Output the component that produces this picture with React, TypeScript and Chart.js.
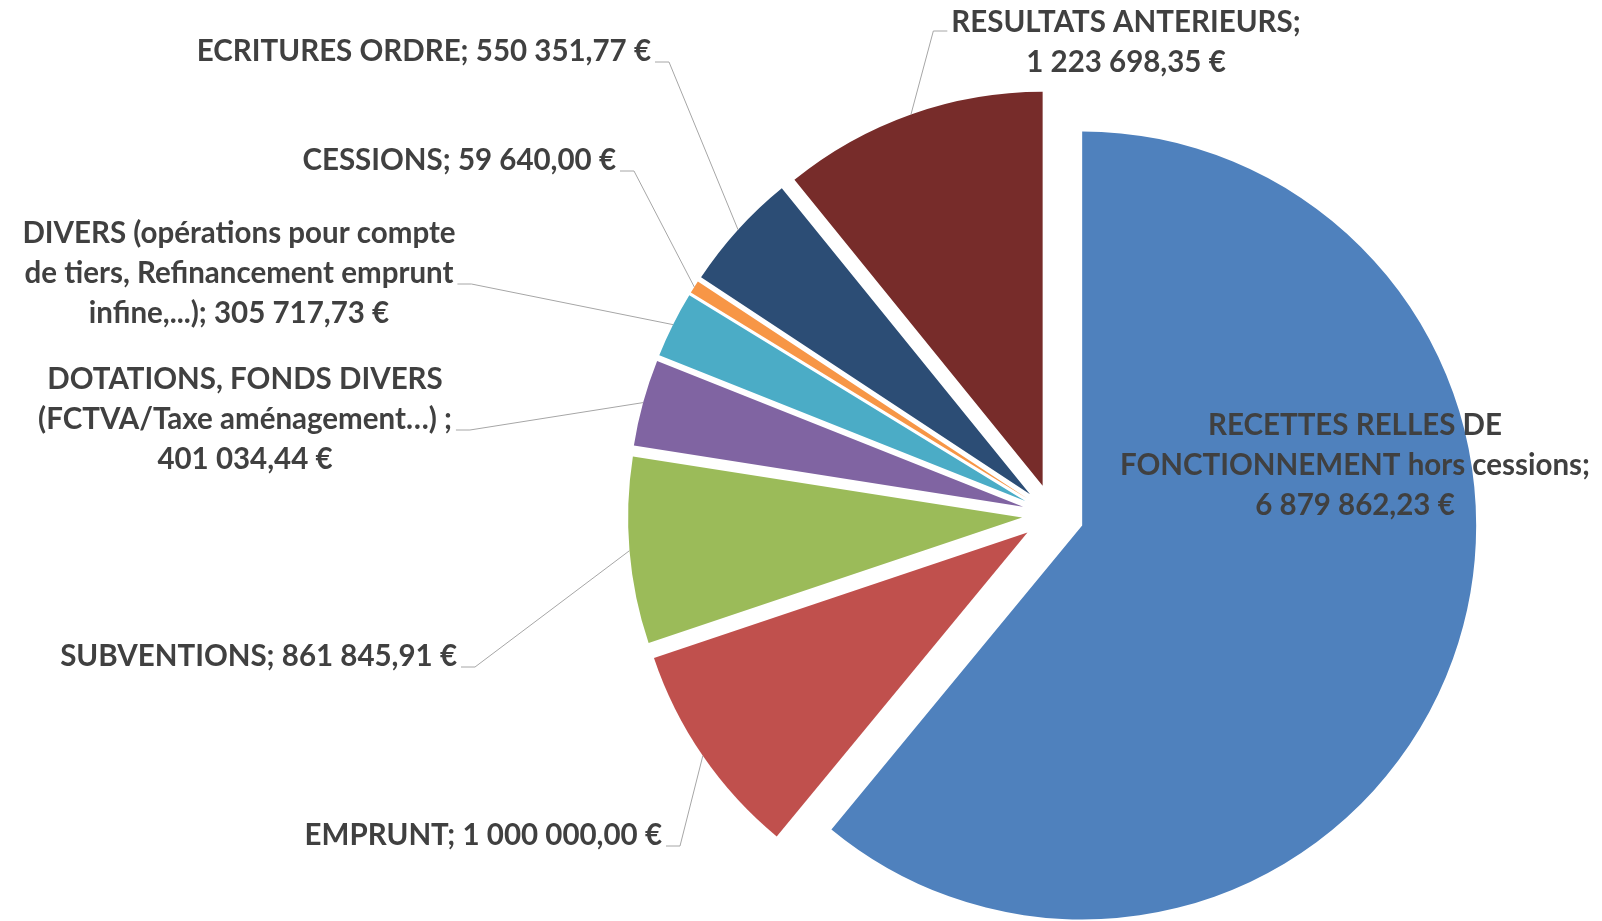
import React, { useEffect, useRef } from "react";
import { Chart, registerables, PieController, ArcElement } from "chart.js";

// ---------- data ----------
const categories = [
  "RECETTES RELLES DE FONCTIONNEMENT hors cessions",
  "EMPRUNT",
  "SUBVENTIONS",
  "DOTATIONS, FONDS DIVERS (FCTVA/Taxe aménagement…) ",
  "DIVERS (opérations pour compte de tiers, Refinancement emprunt infine,...)",
  "CESSIONS",
  "ECRITURES ORDRE",
  "RESULTATS ANTERIEURS",
];
const values = [
  6879862.23, 1000000.0, 861845.91, 401034.44, 305717.73, 59640.0, 550351.77,
  1223698.35,
];
const colors = [
  "#4F81BD",
  "#C0504D",
  "#9BBB59",
  "#8064A2",
  "#4BACC6",
  "#F79646",
  "#2C4D75",
  "#772C2A",
];

// ---------- styling / layout ----------
const EXPLODE = 31;
const FONT_PX = 29.5;
const LINE_H = 40;
const TEXT_COLOR = "#404040";
const LEADER_COLOR = "#A6A6A6";

type LabelLayout = {
  x: number;
  y: number;
  align: "center" | "right";
  breaks: string[];
  attach: "none" | "left" | "right";
  attachLine: number;
  attachDy: number;
};

const labelLayout: LabelLayout[] = [
  { x: 1355, y: 425, align: "center", breaks: ["DE", "cessions;"], attach: "none", attachLine: 0, attachDy: 0 },
  { x: 662, y: 835, align: "right", breaks: [], attach: "right", attachLine: 0, attachDy: 11 },
  { x: 457, y: 656, align: "right", breaks: [], attach: "right", attachLine: 0, attachDy: 11 },
  { x: 245, y: 379, align: "center", breaks: ["DIVERS", "…) ;"], attach: "right", attachLine: 1, attachDy: 11 },
  { x: 239, y: 233, align: "center", breaks: ["compte", "emprunt"], attach: "right", attachLine: 1, attachDy: 11 },
  { x: 616, y: 160, align: "right", breaks: [], attach: "right", attachLine: 0, attachDy: 11 },
  { x: 651, y: 51, align: "right", breaks: [], attach: "right", attachLine: 0, attachDy: 11 },
  { x: 1126, y: 22, align: "center", breaks: ["ANTERIEURS;"], attach: "left", attachLine: 0, attachDy: 9 },
];

function fmtEuro(v: number): string {
  const [i, d] = v.toFixed(2).split(".");
  return i.replace(/\B(?=(\d{3})+(?!\d))/g, "\u00a0") + "," + d + "\u00a0€";
}

function wrapAt(text: string, breaks: string[]): string[] {
  const out: string[] = [];
  let rest = text;
  for (const b of breaks) {
    const k = rest.indexOf(b);
    if (k < 0) continue;
    out.push(rest.slice(0, k + b.length).trim());
    rest = rest.slice(k + b.length);
  }
  out.push(rest.trim());
  return out;
}

// ---------- exploded arc element (uniform radial displacement) ----------
class ExplodedArc extends ArcElement {
  static id = "explodedArc";
  draw(ctx: CanvasRenderingContext2D) {
    const self: any = this;
    const half = (self.startAngle + self.endAngle) / 2;
    ctx.save();
    ctx.translate(Math.cos(half) * EXPLODE, Math.sin(half) * EXPLODE);
    super.draw(ctx);
    ctx.restore();
  }
}
class ExplodedPie extends PieController {
  static id = "explodedPie";
  static defaults = { dataElementType: "explodedArc" };
}
Chart.register(...registerables, ExplodedArc as any, ExplodedPie as any);

const labelPlugin = {
  id: "sliceLabels",
  afterDatasetsDraw(chart: any) {
    const ctx: CanvasRenderingContext2D = chart.ctx;
    const meta = chart.getDatasetMeta(0);
    ctx.save();
    ctx.font = `bold ${FONT_PX}px Lato`;
    ctx.textBaseline = "middle";
    meta.data.forEach((arc: any, i: number) => {
      const lay = labelLayout[i];
      const { x, y, startAngle, endAngle, outerRadius } = arc.getProps(
        ["x", "y", "startAngle", "endAngle", "outerRadius"],
        true
      );
      const half = (startAngle + endAngle) / 2;
      const ax = x + Math.cos(half) * (outerRadius + EXPLODE);
      const ay = y + Math.sin(half) * (outerRadius + EXPLODE);
      const text = categories[i] + "; " + fmtEuro(values[i]);
      const lines = wrapAt(text, lay.breaks);
      ctx.fillStyle = TEXT_COLOR;
      ctx.textAlign = lay.align;
      lines.forEach((ln, k) => ctx.fillText(ln, lay.x, lay.y + k * LINE_H));
      if (lay.attach !== "none") {
        const w = ctx.measureText(lines[lay.attachLine]).width;
        const left = lay.align === "center" ? lay.x - w / 2 : lay.x - w;
        const right = left + w;
        const ly = lay.y + lay.attachLine * LINE_H + lay.attachDy;
        const tx = lay.attach === "right" ? right + 4 : left - 4;
        const ex = lay.attach === "right" ? tx + 14 : tx - 14;
        ctx.beginPath();
        ctx.strokeStyle = LEADER_COLOR;
        ctx.lineWidth = 1;
        ctx.moveTo(tx, ly);
        ctx.lineTo(ex, ly);
        ctx.lineTo(ax, ay);
        ctx.stroke();
      }
    });
    ctx.restore();
  },
};

export default function App() {
  const ref = useRef<HTMLCanvasElement>(null);
  useEffect(() => {
    if (!ref.current) return;
    const chart = new Chart(ref.current, {
      type: "explodedPie" as any,
      data: {
        labels: categories,
        datasets: [
          {
            data: values,
            backgroundColor: colors,
            borderWidth: 0,
            clip: false as any,
          },
        ],
      },
      options: {
        responsive: false,
        animation: false,
        layout: { padding: { left: 659, right: 155, top: 121, bottom: 12 } },
        plugins: { legend: { display: false }, tooltip: { enabled: false } },
        events: [],
      } as any,
      plugins: [labelPlugin],
    });
    return () => chart.destroy();
  }, []);
  return (
    <div style={{ position: "fixed", left: 0, top: 0, width: 1602, height: 921, background: "#fff" }}>
      <canvas ref={ref} width={1602} height={921} />
    </div>
  );
}
